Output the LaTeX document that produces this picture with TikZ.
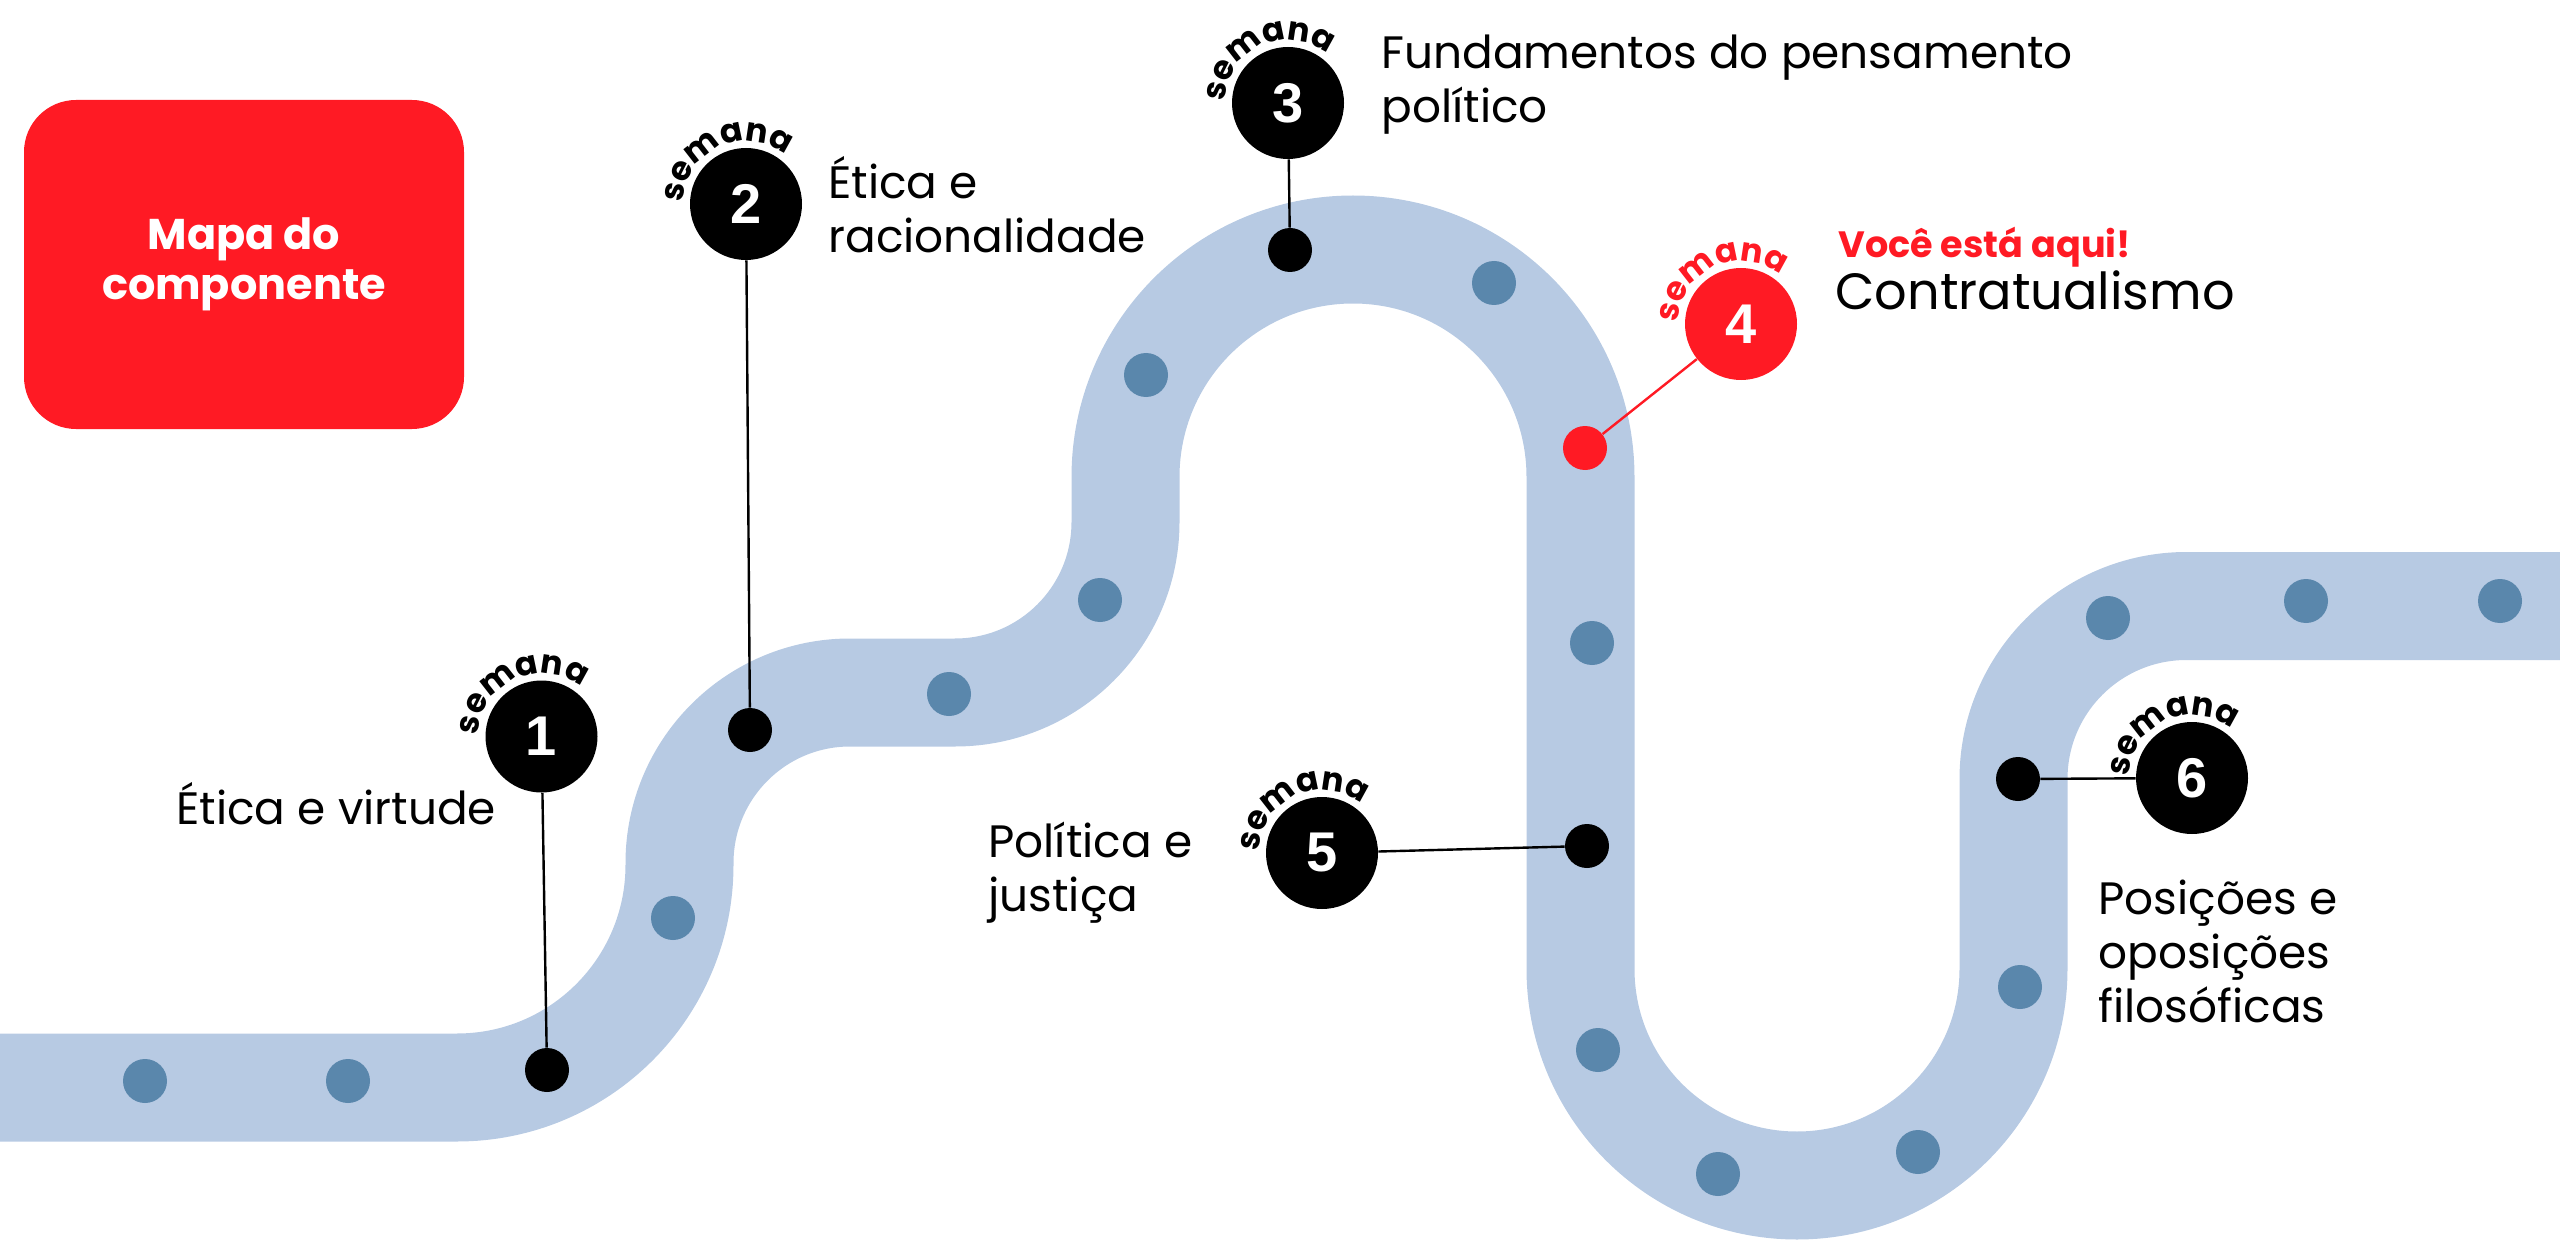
\documentclass[tikz,border=0pt]{standalone}
\usepackage{fontspec}
\setmainfont{Poppins}
\newfontfamily\numfont{Liberation Sans}
\usetikzlibrary{decorations.text}
\definecolor{roadblue}{HTML}{B7CAE3}
\definecolor{dotblue}{HTML}{5A87AC}
\definecolor{hot}{HTML}{FF1A24}
\newcommand\semanaarc[2]{%
  \path[decorate,decoration={text along path,
      text={|\bfseries\fontsize{16.5}{16.5}\selectfont|semana},
      text align=center,text color=#2}]
    (#1) ++(190:63) arc[start angle=190,end angle=40,radius=63];}
\begin{document}
\begin{tikzpicture}[x=0.5pt,y=0.5pt,
  lbl/.style={font=\fontsize{22.7}{27}\selectfont, align=left, anchor=base west, inner sep=0pt},
  wk/.style={circle, fill=black, minimum size=56pt, inner sep=0pt, text=white,
     font=\numfont\bfseries\fontsize{28}{28}\selectfont},
  pin/.style={circle, fill=black, minimum size=22pt, inner sep=0pt},
  bdot/.style={circle, fill=dotblue, minimum size=22pt, inner sep=0pt},
  conn/.style={line width=1.2pt, black},
  mapbox/.style={fill=hot, rounded corners=26pt, minimum width=220pt, minimum height=164.5pt,
     text=white, align=center, font=\bfseries\fontsize{21.5}{25}\selectfont}]
\useasboundingbox (0,0) rectangle (2560,-1241);

% road
\draw[roadblue, line width=54pt]
  (-40,-1087.5) -- (457,-1087.5)
  arc[start angle=270,end angle=360,radius=222.5] -- (679.5,-863)
  arc[start angle=180,end angle=90,radius=170.5] -- (955,-692.5)
  arc[start angle=270,end angle=360,radius=170.5] -- (1125.5,-477)
  arc[start angle=180,end angle=0,radius=227.5] -- (1580.5,-969)
  arc[start angle=180,end angle=360,radius=216.5] -- (2013.5,-779)
  arc[start angle=180,end angle=90,radius=173] -- (2620,-606);

% map box
\node[mapbox] (map) at (244,-264.5) {Mapa do\\componente};

% blue dots
\foreach \p [count=\i] in {(145,-1081),(348,-1081),(673,-918),(949,-694),(1100,-600),
   (1146,-375),(1494,-283),(1592,-643),(1598,-1050),(1718,-1174),(1918,-1152),
   (2020,-987),(2108,-618),(2306,-601),(2500,-601)}
  \node[bdot] (b\i) at \p {};

% week markers on the road
\node[pin] (d1) at (547,-1070) {};
\node[pin] (d2) at (750,-730) {};
\node[pin] (d3) at (1290,-250) {};
\node[pin, fill=hot] (d4) at (1585,-448) {};
\node[pin] (d5) at (1587,-846) {};
\node[pin] (d6) at (2018,-779) {};

% week circles
\node[wk] (c1) at (541.5,-736.5) {1};
\node[wk] (c2) at (746,-204) {2};
\node[wk] (c3) at (1288,-103) {3};
\node[wk, fill=hot] (c4) at (1741,-324) {4};
\node[wk] (c5) at (1322,-853) {5};
\node[wk] (c6) at (2192,-778) {6};

% connectors
\draw[conn] (c1) -- (d1);
\draw[conn] (c2) -- (d2);
\draw[conn] (c3) -- (d3);
\draw[conn, hot] (c4) -- (d4);
\draw[conn] (c5) -- (d5);
\draw[conn] (d6) -- (c6);

% "semana" captions
\semanaarc{c1}{black}
\semanaarc{c2}{black}
\semanaarc{c3}{black}
\semanaarc{c4}{hot}
\semanaarc{c5}{black}
\semanaarc{c6}{black}

% labels (base = baseline of last line)
\node[lbl] (t1) at (176,-824) {Ética e virtude};
\node[lbl] (t2) at (828,-253) {Ética e\\racionalidade};
\node[lbl] (t3) at (1381,-123) {Fundamentos do pensamento\\político};
\node[lbl, text=hot, font=\bfseries\fontsize{18.3}{21}\selectfont] (here) at (1838,-258) {Você está aqui!};
\node[lbl, font=\fontsize{25.5}{27}\selectfont] (t4) at (1835,-310) {Contratualismo};
\node[lbl] (t5) at (988,-911) {Política e\\justiça};
\node[lbl] (t6) at (2098,-1022) {Posições e\\oposições\\filosóficas};
\end{tikzpicture}
\end{document}
